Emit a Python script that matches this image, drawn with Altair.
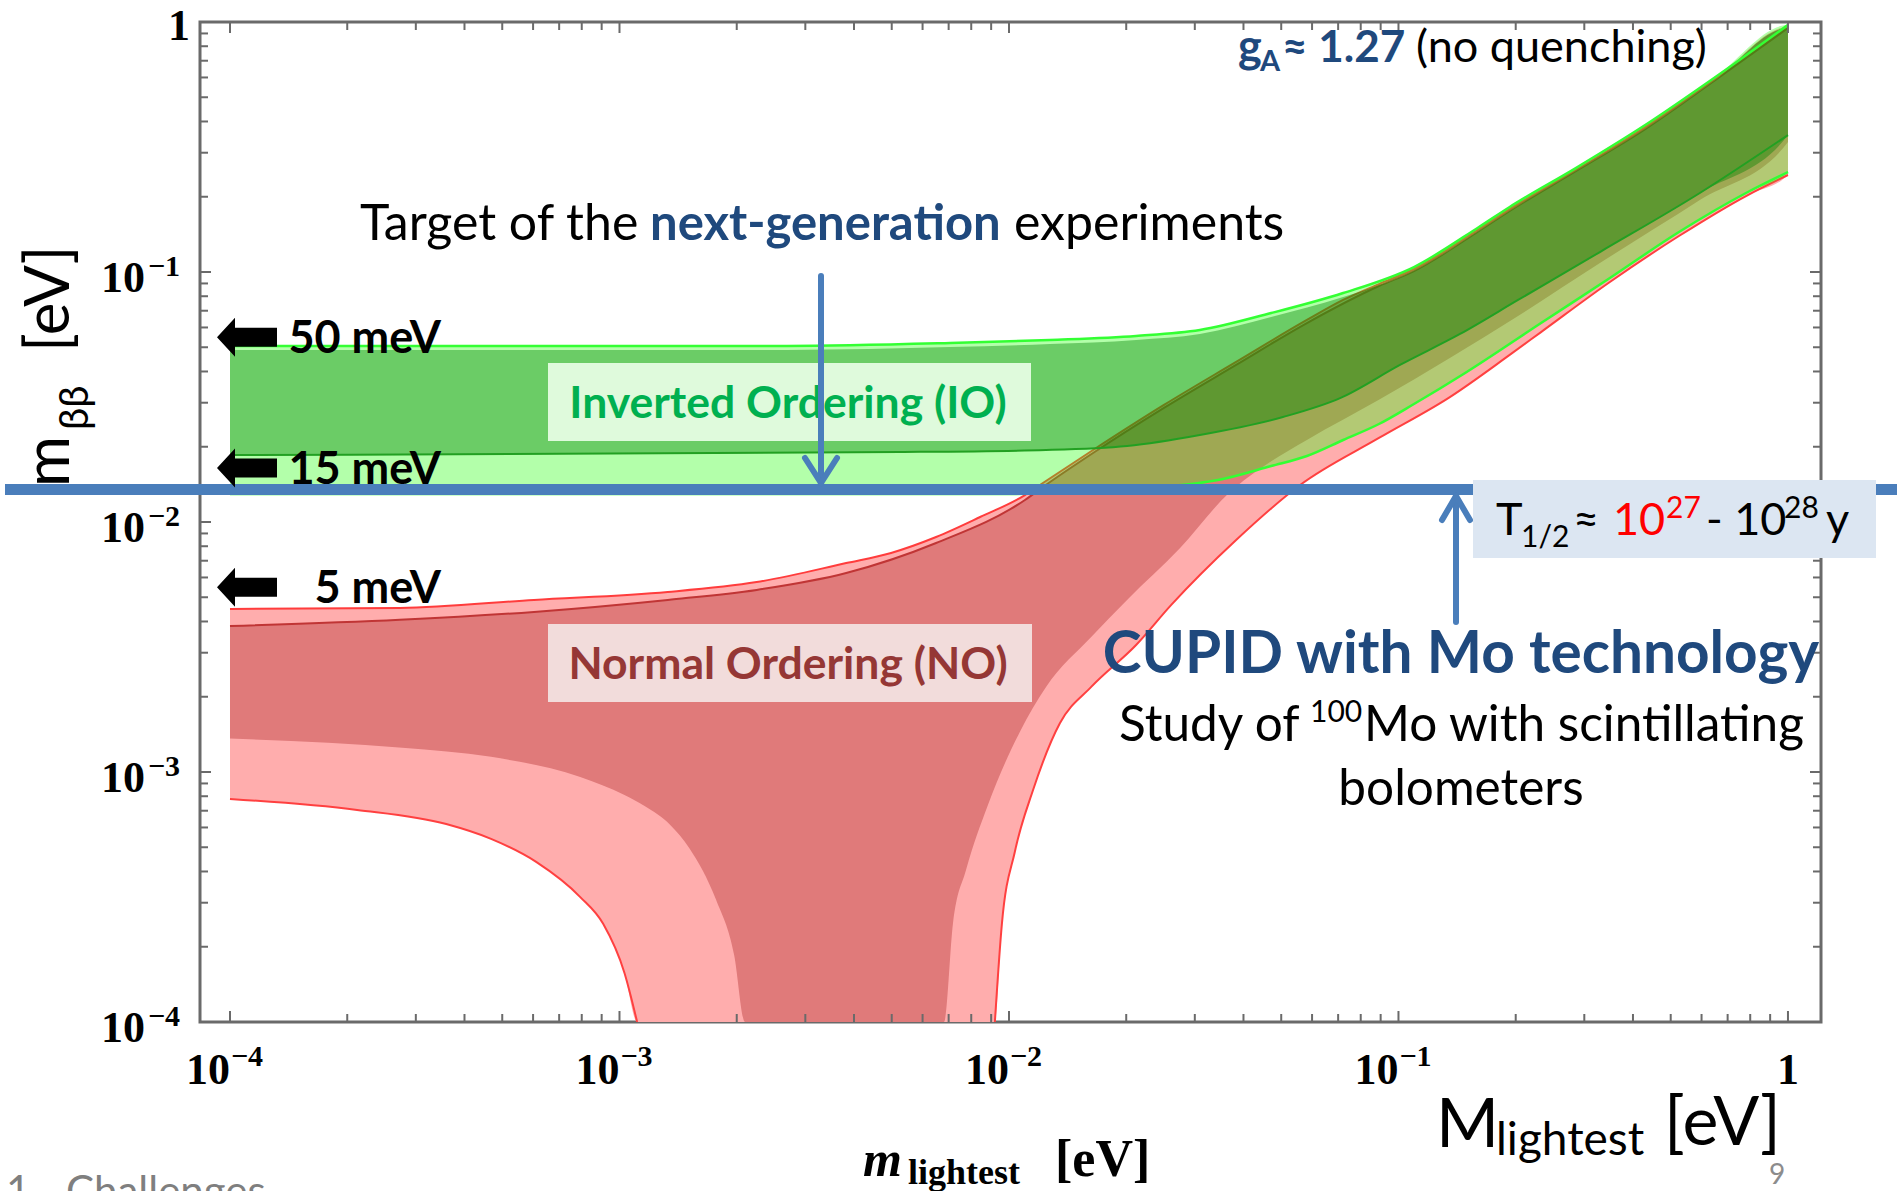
import altair as alt
import pandas as pd

# ---------------- plot frame ----------------
W, H = 1621, 1000                      # plot area in px
X_DOMAIN = [8.375e-5, 1.2157]          # m_lightest [eV] at the frame edges
Y_DOMAIN = [1e-4, 1.0]                 # m_bb [eV]

SANS = "Lato, 'Open Sans', sans-serif"
SERIF = "'Liberation Serif', 'DejaVu Serif', serif"
FRAME = "#6a6a6a"
BLUE = "#4a7ebb"
DARKBLUE = "#1f497d"
CURVE = "monotone"

# ---------------- band edges (eV) ----------------
# Inverted ordering, 3-sigma band
IO_UP_M = [1.0e-4, 2.69e-3, 7.06e-3, 0.01274, 0.0212, 0.0309, 0.0471, 0.0721, 0.1096, 0.161, 0.193, 0.286, 0.430, 0.646, 1.0]
IO_UP_V = [0.0506, 0.0506, 0.0520, 0.0535, 0.0555, 0.0586, 0.0685, 0.0824, 0.1047, 0.1514, 0.182, 0.261, 0.387, 0.597, 0.973]
IO_LO_M = [1.0e-4, 9.48e-3, 0.01714, 0.0244, 0.0344, 0.0471, 0.0582, 0.0721, 0.0891, 0.1096, 0.1483, 0.2323, 0.349, 0.525, 0.789, 1.0]
IO_LO_V = [0.01294, 0.01294, 0.0133, 0.0138, 0.01472, 0.01675, 0.01837, 0.02128, 0.02466, 0.02965, 0.03945, 0.0625, 0.0946, 0.1445, 0.2089, 0.2512]
# Inverted ordering, best-fit band
IO_IN_UP_M = [1.0e-4, 2.69e-3, 7.06e-3, 0.01274, 0.0212, 0.0309, 0.0471, 0.0721, 0.1096, 0.161, 0.193, 0.286, 0.430, 0.646, 1.0]
IO_IN_UP_V = [0.0488, 0.0488, 0.0501, 0.0515, 0.0535, 0.0565, 0.0661, 0.0794, 0.1009, 0.1459, 0.1754, 0.2535, 0.373, 0.581, 0.946]
IO_IN_LO_M = [1.0e-4, 5.25e-3, 0.01245, 0.0201, 0.0309, 0.0505, 0.0708, 0.1009, 0.1439, 0.2028, 0.329, 0.594, 1.0]
IO_IN_LO_V = [0.01854, 0.01905, 0.01941, 0.02014, 0.02228, 0.0263, 0.0313, 0.0425, 0.0565, 0.0773, 0.1202, 0.207, 0.353]

# Normal ordering, 3-sigma band
NO_UP_M = [1.0e-4, 2.73e-4, 6.03e-4, 1.33e-3, 2.25e-3, 3.82e-3, 4.98e-3, 6.50e-3, 8.43e-3, 0.01099, 0.01222, 0.01644,
           0.0250, 0.0383, 0.0582, 0.0721, 0.0891, 0.1096, 0.161, 0.193, 0.286, 0.430, 0.646, 1.0]
NO_UP_V = [4.49e-3, 4.53e-3, 4.88e-3, 5.25e-3, 5.75e-3, 6.85e-3, 7.52e-3, 8.71e-3, 0.01047, 0.01282, 0.01432, 0.01941,
           0.0294, 0.0437, 0.0643, 0.0773, 0.0895, 0.1028, 0.1486, 0.1786, 0.256, 0.380, 0.586, 0.955]
NO_LO_LEFT_M = [1.0e-4, 2.12e-4, 3.59e-4, 4.68e-4, 6.11e-4, 7.93e-4, 9.08e-4, 1.03e-3, 1.11e-3]
NO_LO_LEFT_V = [7.80e-4, 7.05e-4, 6.19e-4, 5.40e-4, 4.37e-4, 3.16e-4, 2.47e-4, 1.57e-4, 1.0e-4]
NO_LO_RIGHT_M = [9.20e-3, 9.59e-3, 0.01035, 0.01153, 0.01352, 0.01626, 0.0212, 0.0261, 0.0383, 0.0559, 0.0891,
                 0.1355, 0.193, 0.2323, 0.349, 0.525, 0.789, 1.0]
NO_LO_RIGHT_V = [1.0e-4, 2.47e-4, 4.79e-4, 8.47e-4, 1.57e-3, 2.19e-3, 3.22e-3, 4.66e-3, 8.47e-3, 0.01406, 0.02168,
                 0.0316, 0.0466, 0.0575, 0.0912, 0.1393, 0.2032, 0.2443]
# Normal ordering, best-fit band
NO_IN_UP_M = [1.0e-4, 2.73e-4, 6.03e-4, 1.33e-3, 2.25e-3, 3.82e-3, 6.50e-3, 0.01099, 0.01222, 0.01644, 0.0250,
              0.0383, 0.0582, 0.0891, 0.1096, 0.161, 0.193, 0.286, 0.430, 0.646, 1.0]
NO_IN_UP_V = [3.84e-3, 4.06e-3, 4.37e-3, 4.88e-3, 5.35e-3, 6.25e-3, 8.24e-3, 0.01225, 0.0138, 0.01888, 0.0286,
              0.0425, 0.0625, 0.0879, 0.1009, 0.1459, 0.1754, 0.2535, 0.373, 0.581, 0.946]
NO_IN_LO_LEFT_M = [1.0e-4, 2.77e-4, 4.68e-4, 7.93e-4, 1.03e-3, 1.16e-3, 1.35e-3, 1.51e-3, 1.77e-3, 1.97e-3, 2.10e-3]
NO_IN_LO_LEFT_V = [1.36e-3, 1.25e-3, 1.15e-3, 9.55e-4, 8.09e-4, 7.31e-4, 6.14e-4, 4.97e-4, 3.08e-4, 1.85e-4, 1.0e-4]
NO_IN_LO_RIGHT_M = [6.81e-3, 7.18e-3, 7.76e-3, 8.83e-3, 0.01067, 0.01245, 0.01626, 0.0201, 0.0275, 0.0367, 0.0468,
                    0.0582, 0.0891, 0.1355, 0.2028, 0.329, 0.594, 1.0]
NO_IN_LO_RIGHT_V = [1.0e-4, 2.47e-4, 4.06e-4, 7.38e-4, 1.45e-3, 2.19e-3, 3.47e-3, 4.88e-3, 7.87e-3, 0.01306, 0.01738,
                    0.0213, 0.0308, 0.0453, 0.0667, 0.1086, 0.194, 0.331]

# sensitivity line and reference levels
TARGET_MBB = 0.0135
LEVELS = [0.05, 0.015, 0.005]
LEVEL_LABELS = ["50 meV", "15 meV", "5 meV"]

# axis ticks and labels
DECADES = [1e-4, 1e-3, 1e-2, 1e-1, 1.0]
MINOR = [k * d for d in DECADES[:-1] for k in range(2, 10)]
LABEL_DECADES = [1e-4, 1e-3, 1e-2, 1e-1]
LABEL_EXPONENTS = ["\u22124", "\u22123", "\u22122", "\u22121"]

xs = alt.Scale(type="log", domain=X_DOMAIN, nice=False)
ys = alt.Scale(type="log", domain=Y_DOMAIN, nice=False)


def X(f="m"):
    return alt.X(f"{f}:Q", scale=xs, axis=None)


def Y(f="v"):
    return alt.Y(f"{f}:Q", scale=ys, axis=None)


def path_df(ms, vs):
    return pd.DataFrame({"m": ms, "v": vs, "i": list(range(len(ms)))})


def region(ms, vs, color, opacity=1.0):
    return alt.Chart(path_df(ms, vs)).mark_line(
        filled=True, color=color, opacity=opacity, strokeWidth=0, clip=True, interpolate=CURVE
    ).encode(x=X(), y=Y(), order="i:Q")


def edge(ms, vs, color, width):
    return alt.Chart(path_df(ms, vs)).mark_line(
        color=color, strokeWidth=width, clip=True, interpolate=CURVE
    ).encode(x=X(), y=Y(), order="i:Q")


def txt(s, x, y, size, color="black", weight="normal", font=SANS, align="left", angle=0, style="normal"):
    return alt.Chart(pd.DataFrame({"s": [s]})).mark_text(
        align=align, baseline="alphabetic", font=font, fontSize=size, fontWeight=weight,
        fontStyle=style, color=color, angle=angle
    ).encode(x=alt.value(x), y=alt.value(y), text="s:N")


def box(x1, y1, x2, y2, color):
    return alt.Chart(pd.DataFrame({"a": [0]})).mark_rect(color=color).encode(
        x=alt.value(x1), x2=alt.value(x2), y=alt.value(y1), y2=alt.value(y2))


def seg(x1, y1, x2, y2, color, w):
    return alt.Chart(pd.DataFrame({"a": [0]})).mark_rule(color=color, strokeWidth=w, strokeCap="round").encode(
        x=alt.value(x1), y=alt.value(y1), x2=alt.value(x2), y2=alt.value(y2))


# ---------------- bands ----------------
no_outer = region(NO_UP_M + NO_LO_RIGHT_M[::-1] + NO_LO_LEFT_M[::-1],
                  NO_UP_V + NO_LO_RIGHT_V[::-1] + NO_LO_LEFT_V[::-1], "#ffadad")
no_inner = region(NO_IN_UP_M + NO_IN_LO_RIGHT_M[::-1] + NO_IN_LO_LEFT_M[::-1],
                  NO_IN_UP_V + NO_IN_LO_RIGHT_V[::-1] + NO_IN_LO_LEFT_V[::-1], "#e07a7a")
no_edges = [
    edge(NO_UP_M, NO_UP_V, "#ff3c3c", 2),
    edge(NO_IN_UP_M, NO_IN_UP_V, "#c03535", 2),
    edge(NO_LO_LEFT_M, NO_LO_LEFT_V, "#ff4040", 2),
    edge(NO_LO_RIGHT_M, NO_LO_RIGHT_V, "#ff4040", 2),
]
io_outer = region(IO_UP_M + IO_LO_M[::-1], IO_UP_V + IO_LO_V[::-1], "#25fe0b", 0.35)
io_inner = region(IO_IN_UP_M + IO_IN_LO_M[::-1], IO_IN_UP_V + IO_IN_LO_V[::-1], "#008000", 0.4)
io_edges = [
    edge(IO_IN_LO_M, IO_IN_LO_V, "#22a022", 2),
    edge(IO_UP_M, IO_UP_V, "#33ff33", 2.5),
    edge(IO_LO_M, IO_LO_V, "#33ff33", 2.5),
]

# ---------------- frame ticks (pointing inwards) ----------------
def ticks(vals, length):
    df = pd.DataFrame({"t": vals})
    base = alt.Chart(df).mark_rule(color=FRAME, strokeWidth=2)
    tx = alt.X("t:Q", scale=xs, axis=None)
    ty = alt.Y("t:Q", scale=ys, axis=None)
    return [
        base.encode(x=tx, y=alt.value(H), y2=alt.value(H - length)),
        base.encode(x=tx, y=alt.value(0), y2=alt.value(length)),
        base.encode(y=ty, x=alt.value(0), x2=alt.value(length)),
        base.encode(y=ty, x=alt.value(W), x2=alt.value(W - length)),
    ]


tick_layers = ticks(DECADES, 11) + ticks(MINOR, 8)

# ---------------- tick labels ----------------
lab_df = pd.DataFrame({"t": LABEL_DECADES, "e": LABEL_EXPONENTS})
tick_labels = [
    alt.Chart(lab_df).mark_text(align="right", baseline="alphabetic", font=SERIF, fontWeight="bold",
                                fontSize=44, color="black").encode(x=X("t"), y=alt.value(1062), text=alt.value("10")),
    alt.Chart(lab_df).mark_text(align="left", baseline="alphabetic", font=SERIF, fontWeight="bold",
                                fontSize=30, color="black", dx=1).encode(x=X("t"), y=alt.value(1044), text="e:N"),
    alt.Chart(pd.DataFrame({"t": [1.0]})).mark_text(align="center", baseline="alphabetic", font=SERIF,
                                                    fontWeight="bold", fontSize=44, color="black").encode(
        x=X("t"), y=alt.value(1062), text=alt.value("1")),
    alt.Chart(lab_df).mark_text(align="right", baseline="alphabetic", font=SERIF, fontWeight="bold",
                                fontSize=44, color="black", dy=20).encode(x=alt.value(-55), y=Y("t"), text=alt.value("10")),
    alt.Chart(lab_df).mark_text(align="left", baseline="alphabetic", font=SERIF, fontWeight="bold",
                                fontSize=30, color="black", dy=4).encode(x=alt.value(-52), y=Y("t"), text="e:N"),
    alt.Chart(pd.DataFrame({"t": [1.0]})).mark_text(align="right", baseline="alphabetic", font=SERIF,
                                                    fontWeight="bold", fontSize=44, color="black", dy=18).encode(
        x=alt.value(-10), y=Y("t"), text=alt.value("1")),
]

# ---------------- sensitivity line ----------------
target_line = alt.Chart(pd.DataFrame({"v": [TARGET_MBB]})).mark_rule(color=BLUE, strokeWidth=11).encode(
    y=Y(), x=alt.value(-195), x2=alt.value(1697))

# ---------------- reference-level arrows ----------------
ARROW = "M -1 0 L -0.4 -0.65 L -0.4 -0.32 L 1 -0.32 L 1 0.32 L -0.4 0.32 L -0.4 0.65 Z"
lv_df = pd.DataFrame({"v": LEVELS, "lab": LEVEL_LABELS})
level_arrows = alt.Chart(lv_df).mark_point(shape=ARROW, filled=True, color="black", size=3600, opacity=1).encode(
    x=alt.value(47), y=Y(), yOffset=alt.value(-10))
level_text = alt.Chart(lv_df).mark_text(align="right", baseline="alphabetic", font=SANS, fontWeight="bold",
                                         fontSize=45, color="black", dy=6).encode(
    x=alt.value(241), y=Y(), text="lab:N")

# ---------------- annotations ----------------
annotations = [
    box(348, 341, 831, 419, "#dffadc"),
    txt("Inverted Ordering (IO)", 588, 396, 44.5, "#00b050", "bold", align="center"),
    box(348, 602, 832, 680, "#f2dcdb"),
    txt("Normal Ordering (NO)", 588, 657, 44.5, "#953735", "bold", align="center"),
    # arrow down to the sensitivity line
    seg(621, 254, 621, 459, BLUE, 6),
    seg(621, 461, 605, 436, BLUE, 6),
    seg(621, 461, 637, 436, BLUE, 6),
    # arrow up from the CUPID label
    seg(1256, 600, 1256, 476, BLUE, 6),
    seg(1256, 474, 1242, 498, BLUE, 6),
    seg(1256, 474, 1270, 498, BLUE, 6),
    # half-life box
    box(1273, 458, 1676, 536, "#dce6f2"),
    txt("T", 1296, 513, 45),
    txt("1/2", 1321, 525, 30),
    txt("\u2248", 1373, 513, 45),
    txt("10", 1413, 513, 45, "#ff0000"),
    txt("27", 1466, 496, 30, "#ff0000"),
    txt("- 10", 1506, 513, 45),
    txt("28", 1584, 496, 30),
    txt("y", 1626, 513, 45),
    # headline
    txt("Target of the", 160, 218, 50),
    txt("next-generation", 450, 218, 49, DARKBLUE, "bold"),
    txt("experiments", 814, 218, 50),
    # g_A
    txt("g", 1038, 40, 45, DARKBLUE, "bold"),
    txt("A", 1060, 49, 29, DARKBLUE, "bold"),
    txt("\u2248 1.27", 1082, 40, 44, DARKBLUE, "bold"),
    txt("(no quenching)", 1216, 40, 45),
    # CUPID
    txt("CUPID with Mo technology", 1261, 651, 58.5, DARKBLUE, "bold", align="center"),
    txt("Study of", 919, 719, 49.5),
    txt("100", 1110, 700, 30),
    txt("Mo with scintillating", 1164, 719, 49.5),
    txt("bolometers", 1261, 783, 49.5, align="center"),
    # axis titles
    txt("m", -131, 465, 62, angle=270),
    txt("\u03b2\u03b2", -112, 408, 40, angle=270),
    txt("[eV]", -131, 330, 62, angle=270),
    txt("m", 663, 1154, 50, font=SERIF, weight="bold", style="italic"),
    txt("lightest", 708, 1162, 36, font=SERIF, weight="bold"),
    txt("[eV]", 855, 1154, 52, font=SERIF, weight="bold"),
    txt("M", 1236, 1125, 68),
    txt("lightest", 1296, 1133, 46),
    txt("[eV]", 1464, 1123, 68),
    txt("9", 1577, 1162, 28, "#8c8c8c", align="center"),
    txt("1.", -194, 1184, 42, "#7f7f7f"),
    txt("Challenges", -134, 1184, 42, "#7f7f7f"),
]

layers = ([no_outer, no_inner] + no_edges + [io_outer, io_inner] + io_edges + tick_layers
          + [target_line] + annotations + [level_arrows, level_text] + tick_labels)

chart = alt.layer(*layers).properties(
    width=W, height=H,
    autosize=alt.AutoSizeParams(type="none"),
    padding={"left": 200, "top": 22, "right": 76, "bottom": 169},
    background="white",
).configure_view(stroke=FRAME, strokeWidth=3)

chart.save("out.html", embed_options={"renderer": "svg", "actions": False})
